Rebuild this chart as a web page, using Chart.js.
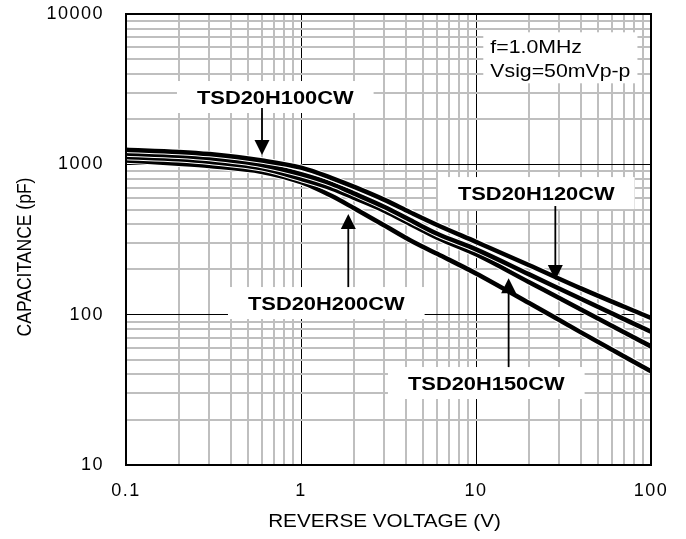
<!DOCTYPE html>
<html><head><meta charset="utf-8">
<script src="https://cdn.jsdelivr.net/npm/chart.js@4.4.1/dist/chart.umd.min.js"></script>
<style>html,body{margin:0;padding:0;background:#fff}#wrap{width:686px;height:539px}</style>
</head><body><div id="wrap"><canvas id="c" width="686" height="539"></canvas></div>
<script>
// ---- data ----
const voltages = [0.1, 0.2, 0.3, 0.6, 1, 1.5, 2, 3, 4.2, 6, 10, 20, 40, 100];
const capTSD20H100CW = [1250, 1210, 1170, 1060, 950, 810, 710, 580, 480, 395, 305, 214, 149, 95];
const capTSD20H120CW = [1180, 1140, 1100, 990, 860, 740, 641, 520, 426, 345, 272, 186, 127, 77];
const capTSD20H150CW = [1120, 1080, 1040, 940, 800, 690, 600, 490, 401, 325, 252, 165, 108, 61.5];
const capTSD20H200CW = [1060, 1010, 975, 890, 760, 615, 512, 392, 313, 254, 188, 120, 76, 42];
const seriesNames = ['TSD20H100CW', 'TSD20H120CW', 'TSD20H150CW', 'TSD20H200CW'];
const seriesValues = [capTSD20H100CW, capTSD20H120CW, capTSD20H150CW, capTSD20H200CW];

const xTickValues = [0.1, 1, 10, 100];
const xTickLabels = ['0.1', '1', '10', '100'];
const yTickValues = [10, 100, 1000, 10000];
const yTickLabels = ['10', '100', '1000', '10000'];
const xTitle = 'REVERSE VOLTAGE (V)';
const yTitle = 'CAPACITANCE (pF)';

// callout labels (data coordinates)
const labelV = [0.713, 22.1, 11.45, 1.395];
const labelC = [2804, 644, 35.1, 119.5];
const arrowV = [0.5986, 28.4, 15.36, 1.863];
const arrowFromC = [2369, 528, 44.8, 152.6];
const arrowToC = [1153, 170, 175, 467];
const conditionLines = ['f=1.0MHz', 'Vsig=50mVp-p'];
const conditionV = 12.07;
const conditionC = [5477, 3793];

// ---- helpers ----
const FAM = '"Liberation Sans", Arial, sans-serif';
const LS = '1.5px';
const SX = 1.15; // horizontal text stretch seen in the reference
function gridValues(decades) {
  const out = [];
  for (let i = 0; i < decades.length - 1; i++) {
    for (let k = 1; k <= 9; k++) out.push(+(k * decades[i]).toPrecision(6));
  }
  out.push(decades[decades.length - 1]);
  return out;
}
function isDecade(v, decades) { return decades.some(t => Math.abs(t - v) / t < 1e-6); }
function labelFor(v, decades, labels) {
  const i = decades.findIndex(t => Math.abs(t - v) / t < 1e-6);
  return i >= 0 ? labels[i] : '';
}
function stretchText(ctx, t, x, y) {
  ctx.save(); ctx.translate(x, y); ctx.scale(SX, 1); ctx.fillText(t, 0, 0); ctx.restore();
}

const datasets = [];
seriesNames.forEach((name, i) => {
  const pts = voltages.map((v, j) => ({ x: v, y: seriesValues[i][j] }));
  datasets.push({ label: name, data: pts, borderColor: '#000', borderWidth: 4.5, pointRadius: 0,
    cubicInterpolationMode: 'monotone', fill: false, order: i * 2 });
  datasets.push({ label: name + ' outline', data: pts, borderColor: '#fff', borderWidth: 6.5, pointRadius: 0,
    cubicInterpolationMode: 'monotone', fill: false, order: i * 2 + 1 });
});

const annot = {
  id: 'annot',
  beforeUpdate(chart) { chart.ctx.letterSpacing = LS; },
  beforeDraw(chart) { chart.ctx.letterSpacing = LS; },
  beforeDatasetsDraw(chart) {
    const { ctx, scales: { x, y } } = chart;
    ctx.save();
    ctx.letterSpacing = '0px';
    ctx.fillStyle = '#fff';
    ctx.font = 'bold 19px ' + FAM;
    seriesNames.forEach((t, i) => {
      const cx = x.getPixelForValue(labelV[i]), cy = y.getPixelForValue(labelC[i]);
      const w = ctx.measureText(t).width * SX;
      ctx.fillRect(cx - w / 2 - 20, cy - 16, w + 40, 32);
    });
    ctx.font = '18.5px ' + FAM;
    const lx = x.getPixelForValue(conditionV);
    const w2 = Math.max(...conditionLines.map(s => ctx.measureText(s).width)) * SX;
    const b1 = y.getPixelForValue(conditionC[0]), b2 = y.getPixelForValue(conditionC[1]);
    ctx.fillRect(lx - 7, b1 - 21, w2 + 14, b2 - b1 + 27);
    ctx.restore();
  },
  afterDatasetsDraw(chart) {
    const { ctx, chartArea: a, scales: { x, y } } = chart;
    ctx.save();
    ctx.letterSpacing = '0px';
    ctx.fillStyle = '#000';
    ctx.strokeStyle = '#000';
    ctx.font = 'bold 19px ' + FAM;
    ctx.textAlign = 'center';
    ctx.textBaseline = 'alphabetic';
    seriesNames.forEach((t, i) => {
      const cx = x.getPixelForValue(labelV[i]), cy = y.getPixelForValue(labelC[i]);
      stretchText(ctx, t, cx, cy + 19 * 0.358);
      // arrow
      const ax = x.getPixelForValue(arrowV[i]);
      const y0 = y.getPixelForValue(arrowFromC[i]), y1 = y.getPixelForValue(arrowToC[i]);
      const dir = y1 > y0 ? 1 : -1;
      const head = 15;
      ctx.lineWidth = 1.8;
      ctx.beginPath(); ctx.moveTo(ax, y0); ctx.lineTo(ax, y1 - dir * head); ctx.stroke();
      ctx.beginPath(); ctx.moveTo(ax, y1); ctx.lineTo(ax - 7.5, y1 - dir * head); ctx.lineTo(ax + 7.5, y1 - dir * head);
      ctx.closePath(); ctx.fill();
    });
    ctx.font = '18.5px ' + FAM;
    ctx.textAlign = 'left';
    const lx = x.getPixelForValue(conditionV);
    conditionLines.forEach((s, i) => stretchText(ctx, s, lx, y.getPixelForValue(conditionC[i])));
    // frame
    ctx.lineWidth = 2;
    ctx.strokeRect(a.left, a.top, a.right - a.left, a.bottom - a.top);
    // axis titles
    ctx.font = '18px ' + FAM;
    ctx.textAlign = 'center';
    ctx.textBaseline = 'middle';
    stretchText(ctx, xTitle, (a.left + a.right) / 2 - 4, 522);
    ctx.font = '17.5px ' + FAM;
    ctx.translate(25, 257);
    ctx.rotate(-Math.PI / 2);
    ctx.scale(1, SX);
    ctx.fillText(yTitle, 0, 0);
    ctx.restore();
  }
};

new Chart(document.getElementById('c'), {
  type: 'line',
  data: { datasets },
  plugins: [annot],
  options: {
    responsive: false, animation: false, devicePixelRatio: 1,
    layout: { padding: { top: 14, right: 35, left: 0, bottom: 0 } },
    plugins: { legend: { display: false }, tooltip: { enabled: false } },
    scales: {
      x: {
        type: 'logarithmic', min: xTickValues[0], max: xTickValues[xTickValues.length - 1],
        afterBuildTicks: s => { s.ticks = gridValues(xTickValues).map(v => ({ value: v })); },
        afterFit: s => { s.height = 74; s.paddingLeft = 0; s.paddingRight = 0; },
        ticks: { autoSkip: false, maxRotation: 0, padding: 15, color: '#000', font: { family: FAM, size: 18 },
          callback: v => labelFor(v, xTickValues, xTickLabels) },
        grid: { drawTicks: false, color: c => isDecade(c.tick.value, xTickValues) ? '#000' : '#bfbfbf',
          lineWidth: c => isDecade(c.tick.value, xTickValues) ? 1 : 2 },
        border: { display: false }
      },
      y: {
        type: 'logarithmic', min: yTickValues[0], max: yTickValues[yTickValues.length - 1],
        afterBuildTicks: s => { s.ticks = gridValues(yTickValues).map(v => ({ value: v })); },
        afterFit: s => { s.width = 126; s.paddingTop = 0; s.paddingBottom = 0; },
        ticks: { autoSkip: false, padding: 22, color: '#000', font: { family: FAM, size: 18 },
          callback: v => labelFor(v, yTickValues, yTickLabels) },
        grid: { drawTicks: false, color: c => isDecade(c.tick.value, yTickValues) ? '#000' : '#bfbfbf',
          lineWidth: c => isDecade(c.tick.value, yTickValues) ? 1 : 2 },
        border: { display: false }
      }
    }
  }
});
</script></body></html>
